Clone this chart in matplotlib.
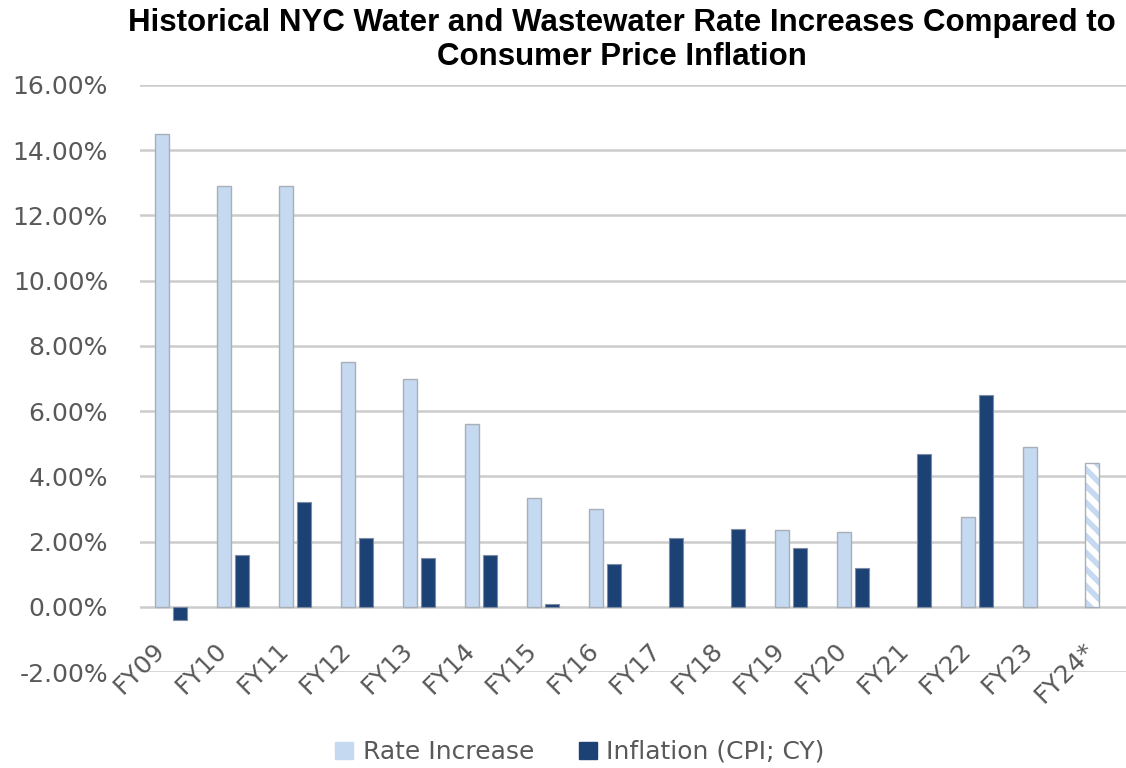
import numpy as np
import matplotlib
matplotlib.use('Agg')
import matplotlib.pyplot as plt
from matplotlib.patches import Patch

# data (percent)
years = ["FY09", "FY10", "FY11", "FY12", "FY13", "FY14", "FY15", "FY16",
         "FY17", "FY18", "FY19", "FY20", "FY21", "FY22", "FY23", "FY24*"]
rate_increase = [14.5, 12.9, 12.9, 7.5, 7.0, 5.6, 3.35, 3.0,
                 np.nan, np.nan, 2.35, 2.3, np.nan, 2.75, 4.9, 4.4]
inflation = [-0.4, 1.6, 3.2, 2.1, 1.5, 1.6, 0.1, 1.3,
             2.1, 2.4, 1.8, 1.2, 4.7, 6.5, np.nan, np.nan]
projected = ["FY24*"]
y_ticks = [-2, 0, 2, 4, 6, 8, 10, 12, 14, 16]

LIGHT = "#C5D9F1"
DARK = "#1C4174"
EDGE = "#A9AFB8"
GRAY_TXT = "#595959"

plt.rcParams['font.family'] = ['DejaVu Sans']
plt.rcParams['hatch.linewidth'] = 4.0

fig = plt.figure(figsize=(11.26, 7.68), dpi=100)
ax = fig.add_axes([140 / 1126, 96 / 768, 986 / 1126, 587 / 768])

x = np.arange(len(years))
w = 0.225
off = 0.145

rate = np.array(rate_increase, dtype=float)
infl = np.array(inflation, dtype=float)
is_proj = np.array([y in projected for y in years])

# actual rate increases
solid = ~np.isnan(rate) & ~is_proj
ax.bar(x[solid] - off, rate[solid], w, color=LIGHT, edgecolor=EDGE, linewidth=1.0, zorder=3)
# projected year, hatched
hp = ~np.isnan(rate) & is_proj
ax.bar(x[hp] - off, rate[hp], w, color="white", edgecolor=LIGHT, hatch="\\\\", linewidth=0, zorder=3)
ax.bar(x[hp] - off, rate[hp], w, facecolor="none", edgecolor=EDGE, linewidth=1.0, zorder=4)

ok = ~np.isnan(infl)
ax.bar(x[ok] + off, infl[ok], w, color=DARK, edgecolor="#7E8DA3", linewidth=0.8, zorder=3)

ax.set_ylim(-2, 16)
ax.set_xlim(-0.5, -0.5 + 986 / 62)
ax.set_yticks(y_ticks)
ax.set_yticklabels([f"{v:.2f}%" for v in y_ticks])
ax.tick_params(axis='y', length=0, pad=23, labelsize=18, labelcolor=GRAY_TXT)
ax.set_xticks([])
for s in ax.spines.values():
    s.set_visible(False)
ax.yaxis.grid(True, color="#CCCCCC", linewidth=1.8, zorder=0)
ax.set_axisbelow(True)

# rotated category labels
for i, lab in enumerate(years):
    ax.text(i - 0.3, -0.95, lab, rotation=45, rotation_mode='anchor',
            ha='right', va='top', fontsize=18, color=GRAY_TXT, zorder=5)

fig.text(0.552, 0.99,
         "Historical NYC Water and Wastewater Rate Increases Compared to\nConsumer Price Inflation",
         ha='center', va='top', fontsize=22.5, fontweight='bold', linespacing=1.2,
         family=['Liberation Sans Narrow', 'Liberation Sans', 'DejaVu Sans'])

handles = [Patch(facecolor=LIGHT, edgecolor=LIGHT, label="Rate Increase"),
           Patch(facecolor=DARK, edgecolor=DARK, label="Inflation (CPI; CY)")]
leg = fig.legend(handles=handles, loc='center', bbox_to_anchor=(580 / 1126, 1 - 752 / 768),
                 ncol=2, frameon=False, fontsize=18, handlelength=0.7, handleheight=0.7,
                 handletextpad=0.4, columnspacing=1.8)
for t in leg.get_texts():
    t.set_color(GRAY_TXT)

fig.savefig("out.png", dpi=100)
